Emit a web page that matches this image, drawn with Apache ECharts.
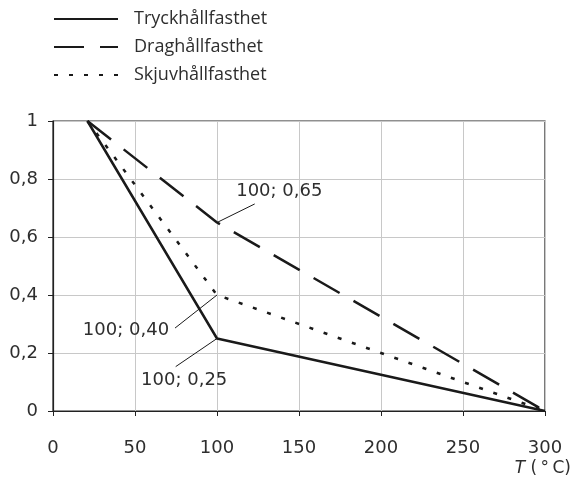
<!DOCTYPE html>
<html>
<head>
<meta charset="utf-8">
<script src="https://cdn.jsdelivr.net/npm/echarts@6/dist/echarts.min.js"></script>
<style>html,body{margin:0;padding:0;background:#fff}#c{width:572px;height:481px}</style>
</head>
<body>
<div id="c"></div>
<script>
var seriesNames = ['Tryckhållfasthet', 'Draghållfasthet', 'Skjuvhållfasthet'];
var tryck = [[21, 1], [100, 0.25], [300, 0]];
var drag = [[21, 1], [100, 0.65], [300, 0]];
var skjuv = [[21, 1], [100, 0.40], [300, 0]];
var xTicks = [0, 50, 100, 150, 200, 250, 300];
var yTicks = [0, 0.2, 0.4, 0.6, 0.8, 1];
// annotations: label text, label centre (data), leader end (data), leader start (data point)
var annTexts = ['100; 0,65', '100; 0,40', '100; 0,25'];
var annLabelPos = [[138, 0.757], [44.5, 0.279], [80, 0.107]];
var annLeaderEnd = [[123, 0.714], [74.4, 0.286], [74.8, 0.153]];
var annPoints = [[100, 0.65], [100, 0.40], [100, 0.25]];

var FONT = 'Open Sans';
var NUMFONT = 'DejaVu Sans';
var TXT = '#2e2e2e';
var LINE = '#1a1a1a';

var chart = echarts.init(document.getElementById('c'));
var series = [
  {name: seriesNames[0], type: 'line', data: tryck, symbol: 'none', lineStyle: {color: LINE, width: 2.5, type: 'solid'}, itemStyle: {color: LINE}, z: 5},
  {name: seriesNames[1], type: 'line', data: drag, symbol: 'none', lineStyle: {color: LINE, width: 2.5, type: [30, 16]}, itemStyle: {color: LINE}, z: 5},
  {name: seriesNames[2], type: 'line', data: skjuv, symbol: 'none', lineStyle: {color: LINE, width: 2.5, type: [4, 11]}, itemStyle: {color: LINE}, z: 5}
];
for (var i = 0; i < annTexts.length; i++) {
  series.push({type: 'line', data: [annPoints[i], annLeaderEnd[i]], symbol: 'none', silent: true,
    lineStyle: {color: LINE, width: 1}, z: 6});
}
series.push({type: 'scatter', symbolSize: 0, silent: true, z: 7, itemStyle: {opacity: 1},
  data: annLabelPos.map(function (p, i) { return {value: p, name: annTexts[i]}; }),
  label: {show: true, position: 'inside', formatter: function (p) { return p.name; },
    fontFamily: NUMFONT, fontSize: 18, color: TXT, opacity: 1, textBorderWidth: 0}});

chart.setOption({
  animation: false,
  textStyle: {fontFamily: FONT},
  legend: {
    data: seriesNames, orient: 'vertical', left: 53, top: 10, padding: 0,
    itemWidth: 64, itemHeight: 14, itemGap: 10,
    itemStyle: {opacity: 0},
    textStyle: {fontFamily: FONT, fontSize: 18, lineHeight: 14, color: TXT, padding: [0, 0, 0, 11]},
    selectedMode: false
  },
  grid: {left: 53, right: 27, top: 121, bottom: 70, show: true, borderColor: '#222', borderWidth: 1.2, containLabel: false},
  xAxis: {
    type: 'value', min: 0, max: 300, interval: 50,
    axisLine: {show: true, lineStyle: {color: '#222', width: 1.2}},
    axisTick: {show: true, length: 5, lineStyle: {color: '#222'}},
    axisLabel: {margin: 28, fontSize: 18, color: TXT, fontFamily: NUMFONT,
      formatter: function (v) { return xTicks.indexOf(v) >= 0 ? String(v) : ''; }},
    splitLine: {show: true, lineStyle: {color: '#c8c8c8', width: 1}}
  },
  yAxis: {
    type: 'value', min: 0, max: 1, interval: 0.2,
    axisLine: {show: true, lineStyle: {color: '#222', width: 1.2}},
    axisTick: {show: true, length: 5, lineStyle: {color: '#222'}},
    axisLabel: {margin: 15, fontSize: 18, color: TXT, fontFamily: NUMFONT,
      formatter: function (v) {
        var t = yTicks.reduce(function (a, b) { return Math.abs(b - v) < Math.abs(a - v) ? b : a; });
        return String(Math.round(t * 10) / 10).replace('.', ',');
      }},
    splitLine: {show: true, lineStyle: {color: '#c8c8c8', width: 1}}
  },
  graphic: [{
    type: 'text', right: 1, bottom: 4,
    style: {text: '{i|T} (\u2009°\u2009C)', fontFamily: NUMFONT, fontSize: 17, fill: TXT,
      rich: {i: {fontStyle: 'italic', fontFamily: NUMFONT, fontSize: 17, fill: TXT, color: TXT}}}
  }],
  series: series
});
</script>
</body>
</html>
